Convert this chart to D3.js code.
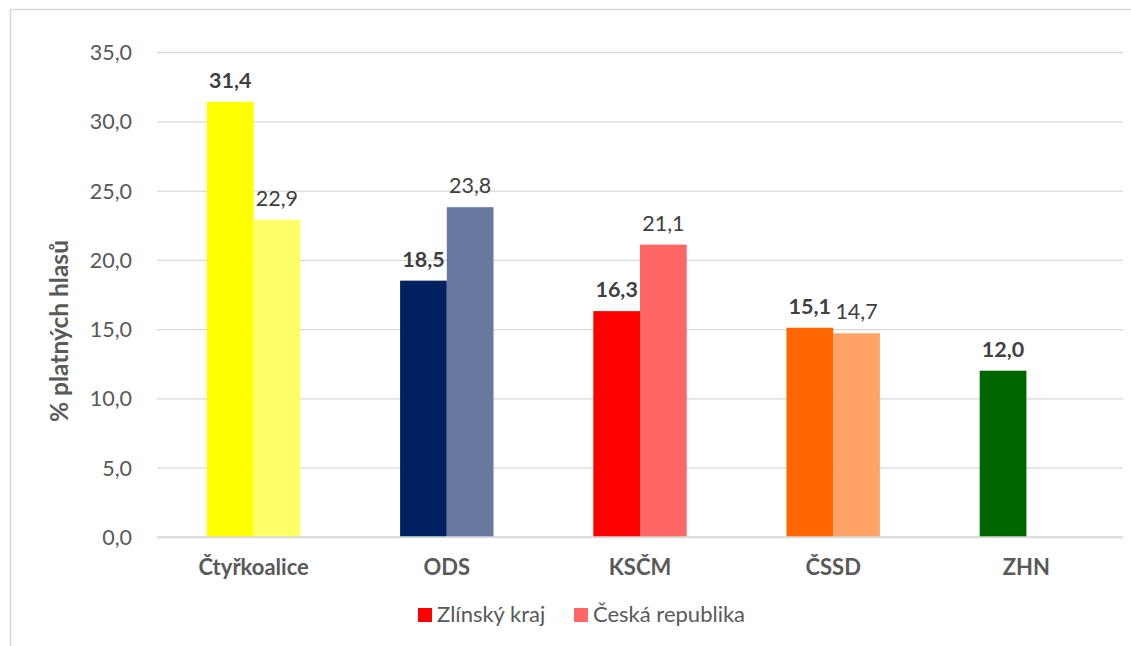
<!DOCTYPE html>
<html>
<head>
<meta charset="utf-8">
<script src="https://cdn.jsdelivr.net/npm/d3@7"></script>
<style>
  body { margin: 0; background: #fff; }
  svg text { font-family: Lato, "Open Sans", sans-serif; }
</style>
</head>
<body>
<svg id="chart" width="1131" height="646"></svg>
<script>
// data
var parties = ["Čtyřkoalice", "ODS", "KSČM", "ČSSD", "ZHN"];
var seriesNames = ["Zlínský kraj", "Česká republika"];
var zlinsky = [31.4, 18.5, 16.3, 15.1, 12.0];
var ceska = [22.9, 23.8, 21.1, 14.7, null];
var yTicks = [0, 5, 10, 15, 20, 25, 30, 35];
// per-party colours: [kraj, republika]
var partyColors = [
  ["#ffff00", "#ffff66"],
  ["#002060", "#6678a0"],
  ["#ff0000", "#ff6666"],
  ["#ff6600", "#ffa366"],
  ["#006600", "#66a366"]
];
var legendColors = ["#ff0000", "#ff6666"];

var svg = d3.select("#chart");
var margin = {top: 52, right: 8, bottom: 109, left: 157};
var width = 1131 - margin.left - margin.right;
var height = 646 - margin.top - margin.bottom;

// chart frame (runs off the bottom and right of the picture)
svg.append("rect")
  .attr("x", 10.5).attr("y", 9.5)
  .attr("width", 1140).attr("height", 700)
  .attr("fill", "none").attr("stroke", "#d9d9d9").attr("stroke-width", 1.5);

var g = svg.append("g").attr("transform", "translate(" + margin.left + "," + margin.top + ")");

var x = d3.scaleBand().domain(parties).range([0, width]).paddingInner(0).paddingOuter(0);
var x1 = d3.scaleBand().domain([0, 1]).range([0, 93.4]);
var y = d3.scaleLinear().domain([0, 35]).range([height, 0]);
var fmt = function(v) { return d3.format(".1f")(v).replace(".", ","); };

// gridlines
g.append("g")
  .call(d3.axisLeft(y).tickValues(yTicks).tickSize(-width).tickFormat(""))
  .call(function(s) {
    s.select(".domain").remove();
    s.selectAll("line").attr("stroke", "#d9d9d9").attr("stroke-width", 1.3);
  });

// y tick labels
g.append("g")
  .attr("transform", "translate(-22,0)")
  .call(d3.axisLeft(y).tickValues(yTicks).tickSize(0).tickFormat(fmt))
  .call(function(s) {
    s.select(".domain").remove();
    s.selectAll("text").attr("fill", "#595959").style("font-size", "21.5px").attr("dy", "0.35em");
  });

var rows = parties.map(function(p, i) {
  return {party: p, i: i, vals: [zlinsky[i], ceska[i]]};
});

var groups = g.selectAll(".grp").data(rows).enter().append("g")
  .attr("class", "grp")
  .attr("transform", function(d) { return "translate(" + (x(d.party) + x.bandwidth() / 2 - 46.7) + ",0)"; });

var cells = groups.selectAll(".cell")
  .data(function(d) {
    return d.vals.map(function(v, k) { return {v: v, k: k, i: d.i}; }).filter(function(c) { return c.v != null; });
  })
  .enter();

cells.append("rect")
  .attr("x", function(d) { return x1(d.k); })
  .attr("width", x1.bandwidth())
  .attr("y", function(d) { return y(d.v); })
  .attr("height", function(d) { return height - y(d.v); })
  .attr("fill", function(d) { return partyColors[d.i][d.k]; });

cells.append("text")
  .attr("x", function(d) { return x1(d.k) + x1.bandwidth() / 2; })
  .attr("y", function(d) { return y(d.v) - 14; })
  .attr("text-anchor", "middle")
  .attr("fill", "#404040")
  .style("font-size", "21.5px")
  .style("font-weight", function(d) { return d.k === 0 ? "bold" : "normal"; })
  .text(function(d) { return fmt(d.v); });

// baseline
g.append("line")
  .attr("x1", 0).attr("x2", width)
  .attr("y1", height).attr("y2", height)
  .attr("stroke", "#d9d9d9").attr("stroke-width", 1.3);

// category labels
g.append("g")
  .attr("transform", "translate(0," + height + ")")
  .call(d3.axisBottom(x).tickSize(0).tickPadding(22))
  .call(function(s) {
    s.select(".domain").remove();
    s.selectAll("text").attr("fill", "#595959").style("font-size", "22px").style("font-weight", "bold");
  });

// y axis title
svg.append("text")
  .attr("transform", "translate(68,331) rotate(-90)")
  .attr("text-anchor", "middle")
  .attr("fill", "#595959")
  .style("font-size", "24.5px")
  .style("font-weight", "bold")
  .text("% platných hlasů");

// legend
var legend = svg.append("g").attr("transform", "translate(418,608)");
var lx = [0, 156];
seriesNames.forEach(function(name, k) {
  var item = legend.append("g").attr("transform", "translate(" + lx[k] + ",0)");
  item.append("rect").attr("width", 14).attr("height", 14).attr("fill", legendColors[k]);
  item.append("text").attr("x", 19).attr("y", 6).attr("dy", "0.35em")
    .attr("fill", "#595959").style("font-size", "22px").text(name);
});
</script>
</body>
</html>
